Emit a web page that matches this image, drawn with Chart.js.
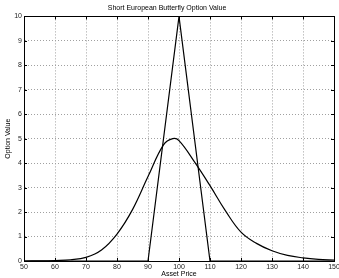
<!DOCTYPE html>
<html>
<head>
<meta charset="utf-8">
<script src="https://cdn.jsdelivr.net/npm/chart.js@4"></script>
<style>
  html, body { margin: 0; padding: 0; background: #fff; }
  #wrap { width: 339px; height: 278px; }
</style>
</head>
<body>
<div id="wrap"><canvas id="optionChart"></canvas></div>
<script>
// option value before expiry
const curvePrices = [50, 55, 60, 65, 70, 75, 80, 85, 90, 95, 98, 100, 105, 110, 115, 120, 125, 130, 135, 140, 145, 150];
const curveValues = [0.00, 0.005, 0.02, 0.05, 0.15, 0.45, 1.1, 2.1, 3.45, 4.75, 5.0, 4.92, 4.05, 3.08, 2.05, 1.18, 0.72, 0.42, 0.23, 0.13, 0.07, 0.04];

// payoff at expiry
const payoffPrices = [50, 90, 100, 110, 150];
const payoffValues = [0, 0, 10, 0, 0];

const xTicks = [50, 60, 70, 80, 90, 100, 110, 120, 130, 140, 150];
const yTicks = [0, 1, 2, 3, 4, 5, 6, 7, 8, 9, 10];

const toPoints = (xs, ys) => xs.map((x, i) => ({ x: x, y: ys[i] }));

// box round the plot plus small inward tick marks, matlab style
const boxPlugin = {
    id: 'boxPlugin',
    afterDraw(chart) {
        const { ctx, chartArea: a, scales } = chart;
        ctx.save();
        ctx.strokeStyle = '#000';
        ctx.lineWidth = 1;
        ctx.beginPath();
        xTicks.forEach(v => {
            const px = Math.round(scales.x.getPixelForValue(v)) + 0.5;
            ctx.moveTo(px, a.bottom); ctx.lineTo(px, a.bottom - 3);
            ctx.moveTo(px, a.top); ctx.lineTo(px, a.top + 3);
        });
        yTicks.forEach(v => {
            const py = Math.round(scales.y.getPixelForValue(v)) + 0.5;
            ctx.moveTo(a.left, py); ctx.lineTo(a.left + 3, py);
            ctx.moveTo(a.right, py); ctx.lineTo(a.right - 3, py);
        });
        ctx.stroke();
        ctx.strokeRect(Math.round(a.left) + 0.5, Math.round(a.top) + 0.5,
            Math.round(a.right - a.left), Math.round(a.bottom - a.top));
        ctx.restore();
    }
};

Chart.defaults.font.family = "'Liberation Sans', Arial, sans-serif";
Chart.defaults.font.size = 7;
Chart.defaults.color = '#222';

const gridStyle = {
    color: '#a0a0a0',
    lineWidth: 1,
    drawTicks: false
};

new Chart(document.getElementById('optionChart'), {
    type: 'line',
    data: {
        datasets: [
            {
                data: toPoints(curvePrices, curveValues),
                borderColor: '#000',
                borderWidth: 1.2,
                pointRadius: 0,
                tension: 0.4
            },
            {
                data: toPoints(payoffPrices, payoffValues),
                borderColor: '#000',
                borderWidth: 1.2,
                pointRadius: 0,
                tension: 0
            }
        ]
    },
    options: {
        responsive: true,
        maintainAspectRatio: false,
        animation: false,
        layout: { padding: { left: 0, right: 5, top: 0, bottom: 0 } },
        plugins: {
            legend: { display: false },
            tooltip: { enabled: false },
            title: {
                display: true,
                text: 'Short European Butterfly Option Value',
                font: { size: 7, weight: 'normal' },
                color: '#000',
                padding: { top: 4, bottom: 4 }
            }
        },
        scales: {
            x: {
                type: 'linear',
                min: 50,
                max: 150,
                grid: gridStyle,
                border: { display: true, color: '#000', width: 1, dash: [1, 2] },
                ticks: { stepSize: 10, padding: 2, maxRotation: 0, autoSkip: false },
                title: { display: true, text: 'Asset Price', padding: 0, font: { size: 7 }, color: '#000' },
                afterFit(scale) {
                    scale.height = 17;
                    scale.paddingLeft = 0;
                    scale.paddingRight = 0;
                }
            },
            y: {
                min: 0,
                max: 10,
                grid: gridStyle,
                border: { display: true, color: '#000', width: 1, dash: [1, 2] },
                ticks: { stepSize: 1, padding: 2 },
                title: { display: true, text: 'Option Value', padding: 4, font: { size: 7 }, color: '#000' },
                afterFit(scale) {
                    scale.width = 24;
                    scale.paddingTop = 0;
                    scale.paddingBottom = 0;
                }
            }
        }
    },
    plugins: [boxPlugin]
});
</script>
</body>
</html>
